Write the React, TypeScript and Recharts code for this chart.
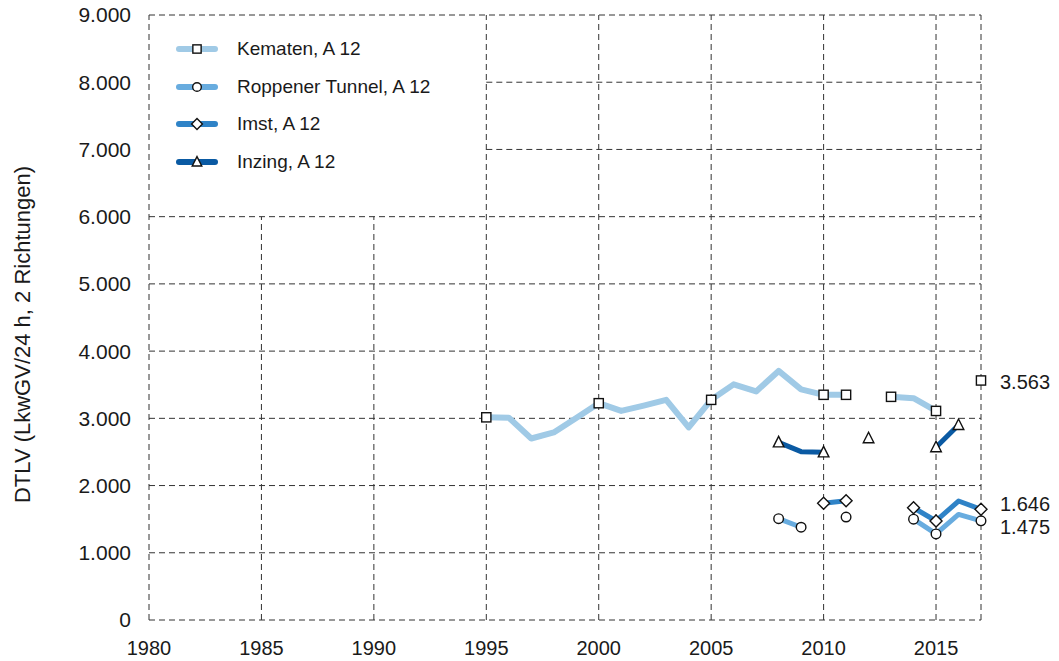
import React from 'react';
import { LineChart, Line, XAxis, YAxis, ReferenceLine, Legend } from 'recharts';

const years = [1995, 1996, 1997, 1998, 1999, 2000, 2001, 2002, 2003, 2004, 2005, 2006, 2007, 2008, 2009, 2010, 2011, 2012, 2013, 2014, 2015, 2016, 2017];
const kematen = [3015, 3010, 2700, 2790, 3005, 3225, 3110, 3190, 3275, 2865, 3275, 3505, 3400, 3705, 3430, 3350, 3350, null, 3320, 3300, 3110, null, 3563];
const roppener = [null, null, null, null, null, null, null, null, null, null, null, null, null, 1507, 1380, null, 1532, null, null, 1500, 1280, 1570, 1475];
const imst = [null, null, null, null, null, null, null, null, null, null, null, null, null, null, null, 1736, 1775, null, null, 1670, 1473, 1770, 1646];
const inzing = [null, null, null, null, null, null, null, null, null, null, null, null, null, 2643, 2504, 2494, null, 2703, null, null, 2569, 2901, null];

const kematenMarked = [1995, 2000, 2005, 2010, 2011, 2013, 2015, 2017];
const roppenerMarked = [2008, 2009, 2011, 2014, 2015, 2017];
const imstMarked = [2010, 2011, 2014, 2015, 2017];
const inzingMarked = [2008, 2010, 2012, 2015, 2016];

const xTicks = [1980, 1985, 1990, 1995, 2000, 2005, 2010, 2015];
const yTicks = [0, 1000, 2000, 3000, 4000, 5000, 6000, 7000, 8000, 9000];
const xGridFull = [1980, 1995, 2000, 2005, 2010, 2015, 2017];
const xGridShort = [1985, 1990];
const yGridFull = [0, 1000, 2000, 3000, 4000, 5000, 6000, 9000];
const yGridShort = [7000, 8000];

const seriesNames = ['Kematen, A 12', 'Roppener Tunnel, A 12', 'Imst, A 12', 'Inzing, A 12'];
const seriesColors = ['#a0cae6', '#68acdf', '#2f83c7', '#0a5aa3'];
const seriesShapes = ['square', 'circle', 'diamond', 'triangle'];

const data = years.map((year, i) => ({
  year,
  kematen: kematen[i],
  roppener: roppener[i],
  imst: imst[i],
  inzing: inzing[i],
}));

const FONT = '"Liberation Sans", Arial, Helvetica, sans-serif';
const TEXT = '#1a1a1a';
const GRID = '#333333';

const fmt = (v: number) => {
  if (v === 0) return '0';
  const th = Math.floor(v / 1000);
  const rest = String(v % 1000).padStart(3, '0');
  return `${th}.${rest}`;
};

function Marker({ shape, cx, cy, scale = 1 }: { shape: string; cx: number; cy: number; scale?: number }) {
  const common = { fill: '#fff', stroke: '#111', strokeWidth: 1.4 };
  if (shape === 'square') {
    const s = 4.6 * scale;
    return <rect x={cx - s} y={cy - s} width={2 * s} height={2 * s} {...common} />;
  }
  if (shape === 'circle') {
    return <circle cx={cx} cy={cy} r={4.8 * scale} {...common} />;
  }
  if (shape === 'diamond') {
    const s = 6 * scale;
    return <polygon points={`${cx},${cy - s} ${cx + s},${cy} ${cx},${cy + s} ${cx - s},${cy}`} {...common} />;
  }
  const w = 5.3 * scale;
  return (
    <polygon
      points={`${cx},${cy - 6 * scale} ${cx + w},${cy + 4.5 * scale} ${cx - w},${cy + 4.5 * scale}`}
      {...common}
    />
  );
}

const makeDot = (shape: string, marked: number[], key: string) => (props: any) => {
  const { cx, cy, payload, index } = props;
  const k = `${key}-dot-${index}`;
  if (cx == null || cy == null || !payload || payload[key] == null || !marked.includes(payload.year)) {
    return <g key={k} />;
  }
  return (
    <g key={k}>
      <Marker shape={shape} cx={cx} cy={cy} />
    </g>
  );
};

const makeLabel = (key: string, dy: number) => (props: any) => {
  const { x, y, index, value } = props;
  const k = `${key}-label-${index}`;
  if (index !== years.length - 1 || value == null || x == null || y == null) return <g key={k} />;
  return (
    <text key={k} x={x + 19} y={y + dy} dominantBaseline="central" fontSize={20} fill={TEXT} fontFamily={FONT}>
      {fmt(value)}
    </text>
  );
};

function LegendBox() {
  return (
    <div style={{ fontFamily: FONT, fontSize: 19, color: TEXT }}>
      {seriesNames.map((name, i) => (
        <div key={name} style={{ display: 'flex', alignItems: 'center', height: 37.7 }}>
          <svg width={42} height={16} style={{ display: 'block' }}>
            <line x1={3} y1={8} x2={39} y2={8} stroke={seriesColors[i]} strokeWidth={6} strokeLinecap="round" />
            <Marker shape={seriesShapes[i]} cx={21} cy={8} scale={0.9} />
          </svg>
          <span style={{ marginLeft: 19, whiteSpace: 'nowrap' }}>{name}</span>
        </div>
      ))}
    </div>
  );
}

const gridProps = { stroke: GRID, strokeWidth: 1, strokeDasharray: '6 4' };

export default function App() {
  return (
    <div style={{ position: 'absolute', left: 0, top: 0, background: '#fff' }}>
      <LineChart
        width={1059}
        height={661}
        data={data}
        margin={{ top: 15, right: 78, bottom: 0, left: 0 }}
        style={{ fontFamily: FONT }}
      >
        <XAxis
          type="number"
          dataKey="year"
          domain={[1980, 2017]}
          ticks={xTicks}
          interval={0}
          axisLine={false}
          tickLine={false}
          tickMargin={15}
          height={41}
          tick={{ fontSize: 20, fill: TEXT, fontFamily: FONT }}
        />
        <YAxis
          type="number"
          domain={[0, 9000]}
          ticks={yTicks}
          interval={0}
          axisLine={false}
          tickLine={false}
          tickMargin={12}
          width={149}
          tickFormatter={fmt}
          tick={{ fontSize: 21, fill: TEXT, fontFamily: FONT }}
          label={{
            value: 'DTLV (LkwGV/24 h, 2 Richtungen)',
            angle: -90,
            position: 'center',
            dx: -52,
            dy: 17,
            style: { fontSize: 22, fill: TEXT, fontFamily: FONT, textAnchor: 'middle' },
          }}
        />
        {xGridFull.map((x) => (
          <ReferenceLine key={`vx-${x}`} segment={[{ x, y: 0 }, { x, y: 9000 }]} {...gridProps} />
        ))}
        {xGridShort.map((x) => (
          <ReferenceLine key={`vs-${x}`} segment={[{ x, y: 0 }, { x, y: 6000 }]} {...gridProps} />
        ))}
        {yGridFull.map((y) => (
          <ReferenceLine key={`hy-${y}`} segment={[{ x: 1980, y }, { x: 2017, y }]} {...gridProps} />
        ))}
        {yGridShort.map((y) => (
          <ReferenceLine key={`hs-${y}`} segment={[{ x: 1995, y }, { x: 2017, y }]} {...gridProps} />
        ))}
        <Line
          dataKey="kematen"
          stroke={seriesColors[0]}
          strokeWidth={6}
          strokeLinejoin="round"
          connectNulls={false}
          isAnimationActive={false}
          dot={makeDot('square', kematenMarked, 'kematen')}
          activeDot={false}
          label={makeLabel('kematen', 2)}
        />
        <Line
          dataKey="roppener"
          stroke={seriesColors[1]}
          strokeWidth={5}
          strokeLinejoin="round"
          connectNulls={false}
          isAnimationActive={false}
          dot={makeDot('circle', roppenerMarked, 'roppener')}
          activeDot={false}
          label={makeLabel('roppener', 6)}
        />
        <Line
          dataKey="imst"
          stroke={seriesColors[2]}
          strokeWidth={5}
          strokeLinejoin="round"
          connectNulls={false}
          isAnimationActive={false}
          dot={makeDot('diamond', imstMarked, 'imst')}
          activeDot={false}
          label={makeLabel('imst', -5)}
        />
        <Line
          dataKey="inzing"
          stroke={seriesColors[3]}
          strokeWidth={5}
          strokeLinejoin="round"
          connectNulls={false}
          isAnimationActive={false}
          dot={makeDot('triangle', inzingMarked, 'inzing')}
          activeDot={false}
        />
        <Legend
          layout="vertical"
          align="center"
          verticalAlign="middle"
          wrapperStyle={{ left: 176, top: 30, width: 320 }}
          content={() => <LegendBox />}
        />
      </LineChart>
    </div>
  );
}
